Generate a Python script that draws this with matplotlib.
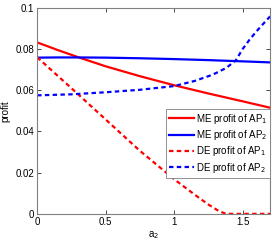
import numpy as np
import matplotlib.pyplot as plt

plt.rcParams['font.family'] = ['Liberation Sans', 'DejaVu Sans']

# values
a2 = [0, 0.15, 0.3, 0.5, 0.75, 1.0, 1.25, 1.5, 1.7]
me_ap1 = [0.0832, 0.0795, 0.0760, 0.0716, 0.0668, 0.0624, 0.0584, 0.0546, 0.0515]
me_ap2 = [0.0758, 0.0759, 0.0759, 0.0758, 0.0755, 0.0751, 0.0746, 0.0740, 0.0735]

a2_de1 = [0, 0.25, 0.5, 0.75, 1.0, 1.15, 1.25, 1.33, 1.38, 1.7]
de_ap1 = [0.0760, 0.0610, 0.0458, 0.0306, 0.0168, 0.0093, 0.0045, 0.0012, 0.0, 0.0]

a2_de2 = [0, 0.25, 0.5, 0.75, 1.0, 1.15, 1.28, 1.38, 1.45, 1.5, 1.55, 1.6, 1.65, 1.7]
de_ap2 = [0.0575, 0.0580, 0.0590, 0.0602, 0.0620, 0.0645, 0.0675, 0.0708, 0.0745,
          0.0800, 0.0845, 0.0885, 0.0922, 0.0958]

fig = plt.figure(figsize=(2.77, 2.43), dpi=100)
ax = fig.add_axes([0.134, 0.12, 0.841, 0.848])

ax.plot(a2, me_ap1, color='r', lw=1.6, label='ME profit of AP$_1$')
ax.plot(a2, me_ap2, color='b', lw=1.6, label='ME profit of AP$_2$')
ax.plot(a2_de1, de_ap1, color='r', lw=1.6, ls='--', dashes=(2, 1.5), label='DE profit of AP$_1$')
ax.plot(a2_de2, de_ap2, color='b', lw=1.6, ls='--', dashes=(2, 1.5), label='DE profit of AP$_2$')

ax.set_xlim(0, 1.7)
ax.set_ylim(0, 0.1)
ax.set_xticks([0, 0.5, 1, 1.5])
ax.set_xticklabels(['0', '0.5', '1', '1.5'])
ax.set_yticks([0, 0.02, 0.04, 0.06, 0.08, 0.1])
ax.set_yticklabels(['0', '0.02', '0.04', '0.06', '0.08', '0.1'])
ax.tick_params(direction='in', top=True, right=True, labelsize=7, length=3, width=0.5, pad=2)
for s in ax.spines.values():
    s.set_color('#808080')
    s.set_linewidth(0.8)

ax.set_xlabel('a$_2$', fontsize=7, labelpad=2)
ax.set_ylabel('profit', fontsize=7, labelpad=4)

leg = ax.legend(loc='lower right', bbox_to_anchor=(1.0, 0.175), fontsize=7, fancybox=False,
                framealpha=1, edgecolor='#808080', handlelength=2.6, handletextpad=0.2,
                borderpad=0.3, labelspacing=0.25, borderaxespad=0)
leg.get_frame().set_linewidth(0.6)

fig.savefig('out.png', dpi=100)
